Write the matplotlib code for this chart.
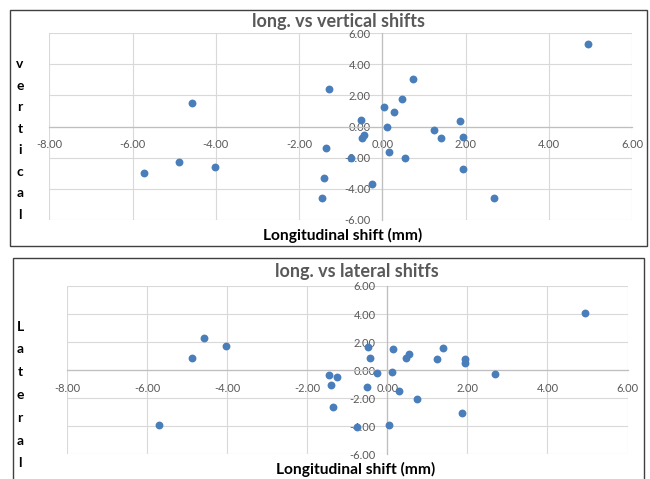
import matplotlib
matplotlib.use("Agg")
import matplotlib.pyplot as plt
from matplotlib.patches import Rectangle

# ---- data ----
longitudinal = [4.95, 0.75, -1.27, -4.58, 0.47, 0.03, 0.29, -0.51, 1.87, 0.11,
                1.25, 1.40, 1.94, -0.44, -0.49, -1.36, 0.15, -0.75, 0.54, -4.88,
                -4.03, -5.72, 1.95, -1.40, -0.25, -1.45, 2.68]
vertical = [5.29, 3.02, 2.40, 1.54, 1.78, 1.26, 0.90, 0.43, 0.34, -0.06,
            -0.21, -0.73, -0.66, -0.56, -0.73, -1.35, -1.61, -2.01, -1.99, -2.27,
            -2.61, -2.96, -2.74, -3.30, -3.71, -4.56, -4.56]
lateral = [4.10, -2.05, -0.52, 2.31, 0.86, -3.93, -1.48, -1.21, -3.05, -0.14,
           0.81, 1.60, 0.81, 0.88, 1.62, -2.60, 1.50, -4.07, 1.12, 0.88,
           1.74, -3.93, 0.48, -1.05, -0.21, -0.36, -0.26]
x_ticks = [-8, -6, -4, -2, 0, 2, 4, 6]
y_ticks = [-6, -4, -2, 0, 2, 4, 6]

titles = ["long. vs vertical shifts", "long. vs lateral shitfs"]
ylabels = ["vertical", "Lateral"]
xlabel = "Longitudinal shift (mm)"

W, H = 650, 479
plt.rcParams['font.family'] = ['Lato', 'DejaVu Sans']
fig = plt.figure(figsize=(W / 100, H / 100), dpi=100)

MARKER = "#4A7EBB"
GRAY = "#595959"

def fx(px):
    return px / W

def fy(py):
    return 1 - py / H

# boxes (pixel: left, top, right, bottom)
boxes = [(10, 10, 647, 245.5), (13, 257.5, 644, 490)]
# plot areas (pixel: left, top, right, bottom)
areas = [(49.3, 33, 632, 220), (67.3, 286, 627.5, 454.3)]
title_pos = [(339, 21.5), (357, 271.5)]
xlabel_pos = [(343, 235.5), (356, 469)]
ylabel_pos = [(20, 139.5), (20, 395)]
ylabel_spacing = [1.95, 2.08]
yvals = [vertical, lateral]

for i in range(2):
    l, t, r, b = boxes[i]
    fig.patches.append(Rectangle((fx(l), fy(b)), fx(r) - fx(l), fy(t) - fy(b),
                                 transform=fig.transFigure, fill=False,
                                 edgecolor="#404040", linewidth=1.0))
    l, t, r, b = areas[i]
    ax = fig.add_axes([fx(l), fy(b), fx(r) - fx(l), fy(t) - fy(b)])
    ax.set_xlim(-8, 6)
    ax.set_ylim(-6, 6)
    ax.set_xticks(x_ticks)
    ax.set_yticks(y_ticks)
    ax.set_xticklabels([f"{v:.2f}" for v in x_ticks])
    ax.set_yticklabels([f"{v:.2f}" for v in y_ticks])
    ax.grid(True, color="#D9D9D9", linewidth=0.8, zorder=0)
    ax.set_axisbelow(True)
    for s in ["top", "right"]:
        ax.spines[s].set_visible(False)
    ax.spines["bottom"].set_position(("data", 0))
    ax.spines["left"].set_position(("data", 0))
    for s in ["bottom", "left"]:
        ax.spines[s].set_color("#BFBFBF")
        ax.spines[s].set_linewidth(0.9)
    ax.tick_params(axis="both", length=0, labelsize=8, labelcolor=GRAY)
    ax.tick_params(axis="x", pad=9)
    ax.tick_params(axis="y", pad=8.5)
    ax.scatter(longitudinal, yvals[i], s=32, color=MARKER, zorder=3,
               linewidths=0, clip_on=False)
    ax.set_facecolor("none")

    fig.text(fx(title_pos[i][0]), fy(title_pos[i][1]), titles[i], ha="center",
             va="center", fontsize=13, fontweight="bold", color=GRAY)
    fig.text(fx(xlabel_pos[i][0]), fy(xlabel_pos[i][1]), xlabel, ha="center",
             va="center", fontsize=11.2, fontweight="bold", color="black")
    fig.text(fx(ylabel_pos[i][0]), fy(ylabel_pos[i][1]), "\n".join(ylabels[i]),
             ha="center", va="center", fontsize=10, fontweight="bold",
             color="black", linespacing=ylabel_spacing[i], multialignment="center")

fig.savefig("out.png", dpi=100)
